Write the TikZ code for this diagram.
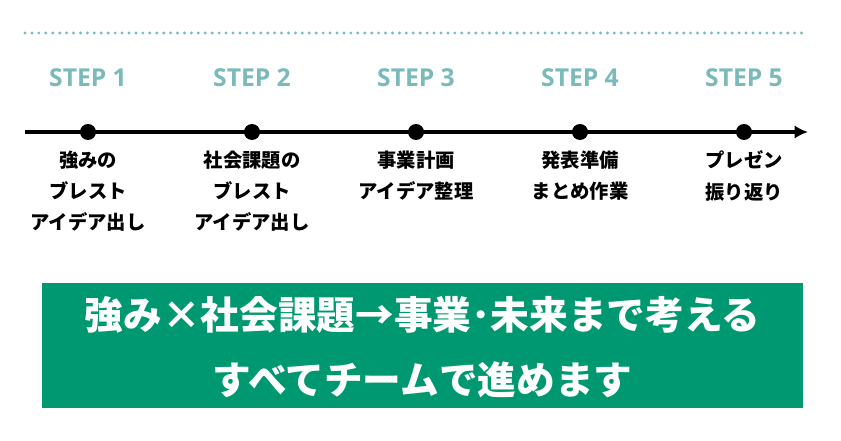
\documentclass[tikz,border=0pt]{standalone}
\usepackage{fontspec}
\newfontfamily\cjk{Noto Sans CJK JP}
\newfontfamily\stepfont{Open Sans}
\usetikzlibrary{positioning,arrows.meta}
\definecolor{stepteal}{RGB}{122,186,186}
\definecolor{boxgreen}{RGB}{0,152,112}
\tikzset{
  steplabel/.style={font=\stepfont\bfseries\fontsize{18.5}{18.5}\selectfont, text=stepteal},
  stepdot/.style={circle, fill=black, inner sep=0pt, minimum size=12pt},
  tasktext/.style={font=\cjk\bfseries\fontsize{14.5}{23.5}\selectfont, align=center, anchor=north},
  bigtext/.style={font=\cjk\bfseries\fontsize{29}{49}\selectfont, text=white, align=center}
}
\begin{document}
\begin{tikzpicture}[x=0.75pt,y=-0.75pt]
\useasboundingbox (0,0) rectangle (841,441);

% dotted rule
\draw[stepteal, line width=2.4pt, line cap=round, dash pattern=on 0pt off 5.2pt] (25,33) -- (808,33);

% timeline
\coordinate (tl-start) at (25,132);
\coordinate (tl-end) at (808,132);
\draw[line width=2.4pt, -{Latex[length=10pt,width=10pt]}] (tl-start) -- (tl-end);

\foreach \x/\i in {88/1,252/2,416/3,580/4,744/5}{
  \node[steplabel] (step\i) at (\x,78) {STEP \i};
  \node[stepdot] (dot\i) at (\x,132) {};
}

% tasks
\node[tasktext] (task1) at (88,146) {強みの\\ブレスト\\アイデア出し};
\node[tasktext] (task2) at (252,146) {社会課題の\\ブレスト\\アイデア出し};
\node[tasktext] (task3) at (416,146) {事業計画\\アイデア整理};
\node[tasktext] (task4) at (580,146) {発表準備\\まとめ作業};
\node[tasktext] (task5) at (744,146) {プレゼン\\振り返り};

% message box
\fill[boxgreen] (42,283) rectangle (803,408);
\node[bigtext] (message) at (422.5,347) {強み×社会課題→事業･未来まで考える\\すべてチームで進めます};
\end{tikzpicture}
\end{document}
